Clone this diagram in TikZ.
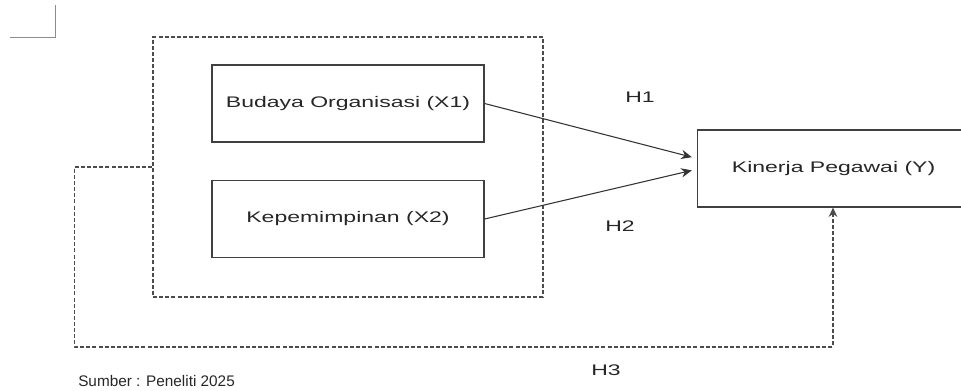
\documentclass[tikz,border=0pt]{standalone}
\usepackage{fontspec}
\setmainfont{Liberation Sans}
\newfontfamily\widefont[FakeStretch=1.5]{Liberation Sans}
\usepackage{tikz}
\usetikzlibrary{arrows.meta}

\tikzset{
  varbox/.style={draw=black!75,line width=0.9pt,minimum width=204pt,minimum height=57.75pt,
    font=\widefont\fontsize{11.5}{13}\selectfont,text=black!85},
  grpbox/.style={draw=black!70,line width=0.9pt,dash pattern=on 3pt off 1.6pt,
    minimum width=292.5pt,minimum height=195pt},
  hyp/.style={font=\widefont\fontsize{11.5}{13}\selectfont,text=black!85},
  link/.style={draw=black!80,line width=0.8pt,-{Stealth[length=8pt,width=7pt]},shorten >=4pt},
  dlink/.style={draw=black!70,line width=0.9pt,dash pattern=on 3pt off 1.6pt,-{Stealth[length=7pt,width=6.5pt]}}
}

\begin{document}
\begin{tikzpicture}[x=0.75pt,y=-0.75pt]
          \useasboundingbox (0,0) rectangle (961,390);
          \draw[black!45,line width=0.6pt] (10,37)--(55,37)--(55,5);
          \node[grpbox] (grp) at (348,167) {};
          \node[varbox] (x1) at (348,103.5) {Budaya Organisasi (X1)};
          \node[varbox] (x2) at (348,219) {Kepemimpinan (X2)};
          \node[varbox,anchor=west] (y) at (697,168.5) {Kinerja Pegawai (Y)};
          \coordinate (h3c) at (833,347);
          \draw[link] (x1.east) -- ([yshift=7.5pt]y.west);
          \draw[link] (x2.east) -- ([yshift=-0.5pt]y.west);
          \draw[dlink] (grp.west) -- ++(-78,0) |- (h3c) -- (h3c |- y.south);
          \node[hyp] (h1) at (640,97) {H1};
          \node[hyp] (h2) at (620,226) {H2};
          \node[hyp] (h3) at (606,370) {H3};
          \node[anchor=west,inner sep=0pt,font=\fontsize{11.5}{13}\selectfont,text=black!85] (src) at (78,381) {Sumber : Peneliti 2025};
        \end{tikzpicture}
\end{document}
